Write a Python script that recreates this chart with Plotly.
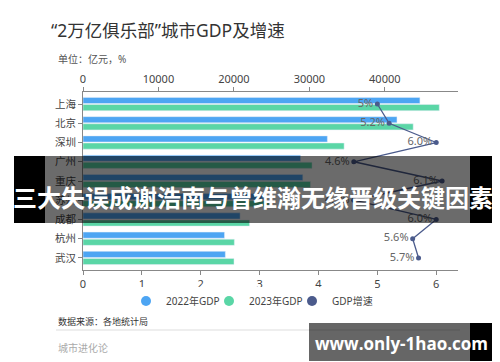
import plotly.graph_objects as go

cities = ["上海", "北京", "深圳", "广州", "重庆", "苏州", "成都", "杭州", "武汉"]
gdp_2022 = [44653, 41611, 32387, 28839, 29129, 23958, 20817, 18753, 18866]
gdp_2023 = [47218, 43760, 34606, 30355, 30145, 24653, 22074, 20059, 20011]
growth = [5.0, 5.2, 6.0, 4.6, 6.1, 4.6, 6.0, 5.6, 5.7]
growth_labels = ["5%", "5.2%", "6.0%", "4.6%", "6.1%", "4.6%", "6.0%", "5.6%", "5.7%"]
gdp_ticks = [0, 10000, 20000, 30000, 40000]
gdp_tick_text = ["0", "10000", "20000", "30000", "40000"]
rate_ticks = [0, 1, 2, 3, 4, 5, 6]

BLUE = "#4da5f3"
GREEN = "#5ad6a6"
LINE = "#4b5b8c"
FONT = "Noto Sans, Noto Sans CJK SC"

fig = go.Figure()
fig.add_trace(go.Bar(y=cities, x=gdp_2022, orientation="h", marker_color=BLUE,
                     name="2022年GDP", showlegend=False, xaxis="x", yaxis="y"))
fig.add_trace(go.Bar(y=cities, x=gdp_2023, orientation="h", marker_color=GREEN,
                     name="2023年GDP", showlegend=False, xaxis="x", yaxis="y"))
fig.add_trace(go.Scatter(y=cities, x=growth, mode="lines+markers+text", xaxis="x2", yaxis="y",
                         line=dict(color=LINE, width=1.3), marker=dict(color=LINE, size=5),
                         text=growth_labels, textposition="middle left",
                         textfont=dict(size=11, color="#666666", family=FONT),
                         name="GDP增速", showlegend=False, cliponaxis=False))
# legend entries (circle symbols)
for nm, col in [("2022年GDP", BLUE), ("2023年GDP", GREEN), ("GDP增速", LINE)]:
    fig.add_trace(go.Scatter(x=[None], y=[None], mode="markers", name=nm,
                             marker=dict(color=col, size=10, symbol="circle"),
                             xaxis="x", yaxis="y"))

axis_common = dict(showline=True, linecolor="#888888", linewidth=1, ticks="outside",
                   ticklen=4, tickcolor="#888888", showgrid=False, zeroline=False,
                   automargin=False,
                   tickfont=dict(size=11, color="#444444", family=FONT))

fig.update_layout(
    width=500, height=362,
    margin=dict(l=75, r=50, t=84, b=100, autoexpand=False),
    paper_bgcolor="white", plot_bgcolor="white",
    font=dict(family=FONT, color="#333333"),
    barmode="group", bargap=0.26, bargroupgap=0.14,
    xaxis=dict(side="top", range=[0, 49700], tickvals=gdp_ticks, ticktext=gdp_tick_text,
               anchor="y", **axis_common),
    xaxis2=dict(side="bottom", overlaying="x", range=[0, 6.37], tickvals=rate_ticks,
                anchor="y", **axis_common),
    yaxis=dict(autorange="reversed", categoryorder="array", categoryarray=cities,
               showline=True, linecolor="#888888", ticks="outside", ticklen=4,
               tickcolor="#888888", showgrid=False, automargin=False,
               tickfont=dict(size=10.5, color="#444444", family=FONT)),
    legend=dict(orientation="h", xref="container", yref="container",
                x=0.485, xanchor="center", y=1 - 293 / 362, yanchor="middle",
                font=dict(size=10, color="#444444", family=FONT), itemwidth=30,
                entrywidth=38, traceorder="normal"),
)

def px(x):
    return (x - 75) / 375

def py(y):
    return (262 - y) / 178

# title & subtitle & footer
fig.add_annotation(text="“2万亿俱乐部”城市GDP及增速", xref="paper", yref="paper",
                   x=px(41), y=py(22), xanchor="left", yanchor="middle", showarrow=False,
                   font=dict(size=17.5, color="#333333", family=FONT))
fig.add_annotation(text="单位：亿元，%", xref="paper", yref="paper",
                   x=px(48), y=py(51), xanchor="left", yanchor="middle", showarrow=False,
                   font=dict(size=10, color="#555555", family=FONT))
fig.add_annotation(text="数据来源：各地统计局", xref="paper", yref="paper",
                   x=px(48), y=py(313), xanchor="left", yanchor="middle", showarrow=False,
                   font=dict(size=9, color="#333333", family=FONT))
fig.add_annotation(text="城市进化论", xref="paper", yref="paper",
                   x=px(48), y=py(340), xanchor="left", yanchor="middle", showarrow=False,
                   font=dict(size=10, color="#aaaaaa", family=FONT))

shapes = [
    dict(type="line", xref="paper", yref="paper", x0=px(48), x1=px(452),
         y0=py(322), y1=py(322), line=dict(color="#dddddd", width=1), layer="above"),
    # overlays: banner and site box
    dict(type="rect", xref="paper", yref="paper", x0=px(37), x1=px(462), y0=py(215), y1=py(148),
         fillcolor="rgba(0,0,0,0.58)", line=dict(width=0), layer="above"),
    dict(type="rect", xref="paper", yref="paper", x0=px(6), x1=px(37), y0=py(215), y1=py(148),
         fillcolor="black", line=dict(width=0), layer="above"),
    dict(type="rect", xref="paper", yref="paper", x0=px(462), x1=px(500), y0=py(215), y1=py(148),
         fillcolor="black", line=dict(width=0), layer="above"),
    dict(type="rect", xref="paper", yref="paper", x0=px(301), x1=px(462), y0=py(353), y1=py(315),
         fillcolor="rgba(0,0,0,0.6)", line=dict(width=0), layer="above"),
    dict(type="rect", xref="paper", yref="paper", x0=px(462), x1=px(491), y0=py(353), y1=py(315),
         fillcolor="black", line=dict(width=0), layer="above"),
]
fig.update_layout(shapes=shapes)

fig.add_annotation(text="<b>三大失误成谢浩南与曾维瀚无缘晋级关键因素</b>", xref="paper", yref="paper",
                   x=px(245), y=py(188), xanchor="center", yanchor="middle", showarrow=False,
                   font=dict(size=24, color="white", family="Noto Sans CJK SC"))
fig.add_annotation(text="<b>www.only-1hao.com</b>", xref="paper", yref="paper",
                   x=px(393), y=py(335), xanchor="center", yanchor="middle", showarrow=False,
                   font=dict(size=17, color="white", family="Open Sans"))

fig.write_html("out.html")
